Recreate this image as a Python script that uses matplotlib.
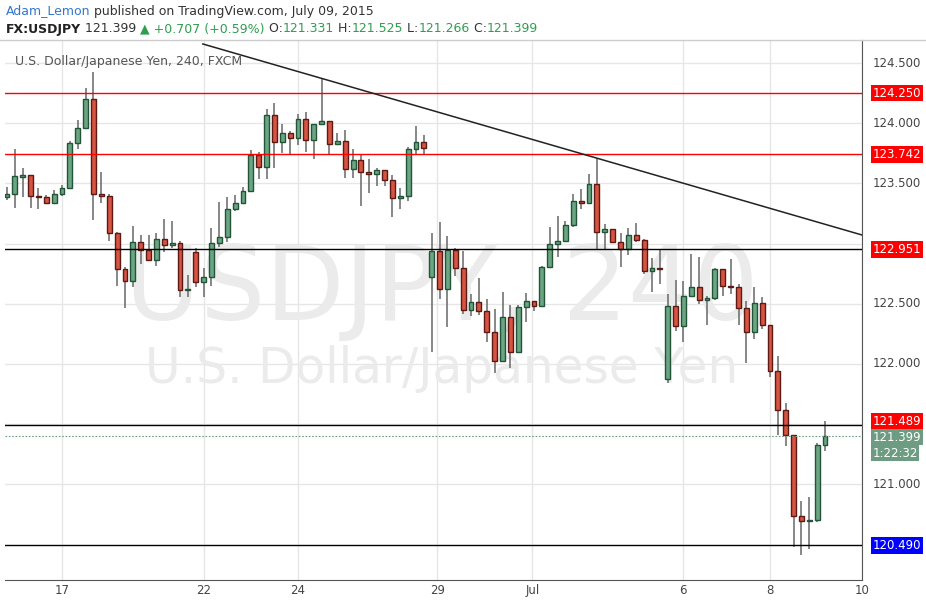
import matplotlib
matplotlib.use("Agg")
import matplotlib.pyplot as plt
from matplotlib.patches import Rectangle
import numpy as np

opens = [123.387,123.412,123.553,123.569,123.395,123.387,123.337,123.412,123.461,123.835,
 123.960,124.201,123.412,123.395,123.088,122.788,122.689,123.013,122.946,122.863,
 123.038,122.988,123.005,122.614,122.930,122.681,122.722,123.005,123.055,123.287,
 123.337,123.437,123.735,123.636,124.068,123.843,123.918,123.876,124.035,123.860,
 123.993,124.018,123.827,123.851,123.619,123.694,123.594,123.578,123.611,123.528,
 123.378,123.395,123.785,123.843,122.722,122.938,122.622,122.946,122.797,122.448,
 122.515,122.440,122.265,122.024,122.390,122.098,122.473,122.523,122.481,122.805,
 122.997,123.021,123.154,123.353,123.337,123.495,123.096,123.121,123.013,122.955,
 123.071,123.030,122.772,122.797,121.874,122.481,122.315,122.564,122.639,122.531,
 122.548,122.788,122.647,122.639,122.465,122.265,122.506,122.323,121.940,121.616,
 121.409,120.735,120.694,120.700,121.326]
highs = [123.470,123.785,123.627,123.569,123.461,123.403,123.445,123.486,123.851,124.027,
 124.293,124.426,123.594,123.412,123.096,122.805,123.146,123.071,123.071,123.088,
 123.204,123.188,123.021,122.739,122.963,122.797,123.129,123.345,123.387,123.403,
 123.470,123.777,123.760,124.118,124.168,123.993,123.935,124.077,124.093,123.993,
 124.368,124.018,123.918,123.943,123.785,123.744,123.702,123.627,123.611,123.569,
 123.461,123.802,123.977,123.901,123.088,123.179,123.063,122.963,122.938,122.581,
 122.714,122.539,122.456,122.597,122.490,122.490,122.589,122.523,122.813,123.138,
 123.229,123.188,123.412,123.453,123.578,123.710,123.162,123.121,123.088,123.129,
 123.171,123.038,122.880,122.946,122.581,122.697,122.689,122.913,122.888,122.564,
 122.797,122.788,122.871,122.664,122.523,122.639,122.556,122.323,122.065,121.674,
 121.409,120.860,120.893,121.342,121.525]
lows = [123.362,123.295,123.387,123.295,123.287,123.329,123.329,123.395,123.461,123.785,
 123.960,123.196,123.337,123.021,122.647,122.465,122.639,122.830,122.863,122.813,
 122.930,122.963,122.556,122.556,122.639,122.556,122.647,122.972,123.013,123.270,
 123.337,123.437,123.536,123.536,123.627,123.752,123.744,123.818,123.760,123.702,
 123.993,123.744,123.818,123.545,123.545,123.312,123.420,123.478,123.478,123.221,
 123.287,123.353,123.744,123.744,122.098,122.539,122.307,122.730,122.415,122.398,
 122.407,122.181,121.923,122.024,121.965,122.090,122.348,122.440,122.481,122.805,
 122.888,123.021,123.138,123.287,123.329,122.955,122.955,123.013,122.805,122.905,
 123.013,122.747,122.597,122.664,121.841,122.274,122.181,122.556,122.498,122.323,
 122.531,122.564,122.581,122.323,122.007,122.207,122.290,121.890,121.409,121.317,
 120.477,120.411,120.461,120.685,121.276]
closes = [123.412,123.561,123.569,123.395,123.387,123.337,123.412,123.461,123.835,123.960,
 124.201,123.412,123.395,123.088,122.788,122.689,123.013,122.946,122.863,123.038,
 122.988,123.005,122.614,122.622,122.681,122.722,123.005,123.055,123.287,123.337,
 123.437,123.735,123.636,124.068,123.843,123.918,123.876,124.035,123.860,123.993,
 124.018,123.827,123.851,123.619,123.694,123.594,123.578,123.611,123.528,123.378,
 123.395,123.785,123.843,123.793,122.938,122.622,122.946,122.797,122.448,122.515,
 122.440,122.265,122.024,122.390,122.098,122.473,122.523,122.481,122.805,122.997,
 123.021,123.154,123.353,123.337,123.495,123.096,123.121,123.013,122.955,123.071,
 123.030,122.772,122.797,122.788,122.481,122.315,122.564,122.639,122.531,122.548,
 122.788,122.647,122.639,122.465,122.265,122.506,122.323,121.940,121.616,121.409,
 120.735,120.694,120.700,121.326,121.399]

date_labels = ["17", "22", "24", "29", "Jul", "6", "8", "10"]
date_pos = [7, 25, 37, 54.7, 66.8, 85.9, 97, 108.7]
yticks = [121.0, 121.5, 122.0, 122.5, 123.0, 123.5, 124.0, 124.5]
levels = [124.250, 123.742, 122.951, 121.489]
level_colors = ["#ff0000", "#ff0000", "#000000", "#000000"]
support = 120.490
last_price = 121.399
countdown = "1:22:32"
trend_x = [24.9, 108.7]
trend_y = [124.659, 123.071]

W, H = 926, 612
fig = plt.figure(figsize=(W/100, H/100), dpi=100)
fig.patch.set_facecolor("white")
ax = fig.add_axes([5/W, (H-580)/H, (862-5)/W, (580-40)/H])
xmin, xmax = -0.25, 108.7
ymin, ymax = 120.203, 124.692
ax.set_xlim(xmin, xmax)
ax.set_ylim(ymin, ymax)

for yt in yticks:
    ax.axhline(yt, color="#e6e6e6", lw=1, zorder=0)
for xp in date_pos:
    ax.axvline(xp, color="#e6e6e6", lw=1, zorder=0)

ax.text(0.51, 0.535, "USDJPY, 240", transform=ax.transAxes, ha="center", va="center",
        fontsize=74, color="#ebebeb", zorder=0.5)
ax.text(0.51, 0.39, "U.S. Dollar/Japanese Yen", transform=ax.transAxes, ha="center", va="center",
        fontsize=35, color="#ebebeb", zorder=0.5)

bw = 0.62
for i, (o, h, l, c) in enumerate(zip(opens, highs, lows, closes)):
    up = c >= o
    fc = "#6ba583" if up else "#d75442"
    ec = "#225437" if up else "#5b1a13"
    ax.vlines(i, l, h, color="#737373", lw=1.2, zorder=2)
    bot = min(o, c)
    ht = max(abs(c - o), 0.004)
    ax.add_patch(Rectangle((i - bw/2, bot), bw, ht, facecolor=fc, edgecolor=ec, lw=1, zorder=3))

for lv, col in zip(levels, level_colors):
    ax.axhline(lv, color=col, lw=1, zorder=4)
ax.axhline(support, color="#000000", lw=1, zorder=4)
ax.axhline(last_price, color="#6e9c82", lw=0.8, ls=(0, (1.5, 1.5)), zorder=4)
ax.plot(trend_x, trend_y, color="#222222", lw=1.1, zorder=4)

ax.set_xticks([])
ax.set_yticks([])
ax.spines["left"].set_visible(False)
ax.spines["top"].set_visible(False)
ax.spines["right"].set_color("#555555")
ax.spines["bottom"].set_color("#555555")

for yt in yticks:
    if yt in (123.0, 121.5):
        continue
    ax.text(1.012, (yt - ymin)/(ymax - ymin), f"{yt:.3f}", transform=ax.transAxes,
            ha="left", va="center", fontsize=8.5, color="#444444")
def tag(y, txt, bg, dy=0):
    ax.text(1.012, (y - ymin)/(ymax - ymin) + dy, txt, transform=ax.transAxes, ha="left", va="center",
            fontsize=8.5, color="white",
            bbox=dict(boxstyle="square,pad=0.15", fc=bg, ec="none"), clip_on=False, zorder=6)
px = 1/540
tag(levels[0], f"{levels[0]:.3f}", "#ff0000")
tag(levels[1], f"{levels[1]:.3f}", "#ff0000")
tag(levels[2], f"{levels[2]:.3f}", "#ff0000")
tag(levels[3], f"{levels[3]:.3f}", "#ff0000", dy=4*px)
tag(last_price, f"{last_price:.3f}", "#6e9c82", dy=-1*px)
tag(last_price, countdown, "#6e9c82", dy=-17*px)
tag(support, f"{support:.3f}", "#0000ff")

for lab, xp in zip(date_labels, date_pos):
    ax.text(xp, ymin - 0.09, lab, ha="center", va="center", fontsize=8.5, color="#444444",
            clip_on=False)

ax.text(0.012, 0.96, "U.S. Dollar/Japanese Yen, 240, FXCM", transform=ax.transAxes,
        ha="left", va="center", fontsize=9, color="#555555")

fig.lines.append(plt.Line2D([0, 1], [1-40/H, 1-40/H], transform=fig.transFigure, color="#cccccc", lw=1))
t1 = fig.text(6/W, 1-11/H, "Adam_Lemon", color="#3377cc", fontsize=9, va="center", ha="left")
fig.canvas.draw()
bb = t1.get_window_extent()
fig.text(bb.x1/W + 3/W, 1-11/H, "published on TradingView.com, July 09, 2015", color="#333333",
         fontsize=9, va="center", ha="left")
parts = [("FX:USDJPY", "#222222", "bold"), (" 121.399 ", "#333333", "normal"),
         ("▲ +0.707 (+0.59%)", "#2e9e4f", "normal"), (" O:", "#333333", "normal"),
         ("121.331", "#2e9e4f", "normal"), (" H:", "#333333", "normal"), ("121.525", "#2e9e4f", "normal"),
         (" L:", "#333333", "normal"), ("121.266", "#2e9e4f", "normal"), (" C:", "#333333", "normal"),
         ("121.399", "#2e9e4f", "normal")]
x = 6
for txt, col, wt in parts:
    t = fig.text(x/W, 1-29/H, txt, color=col, fontsize=9, fontweight=wt, va="center", ha="left")
    fig.canvas.draw()
    x = t.get_window_extent().x1
fig.savefig("out.png", dpi=100)
